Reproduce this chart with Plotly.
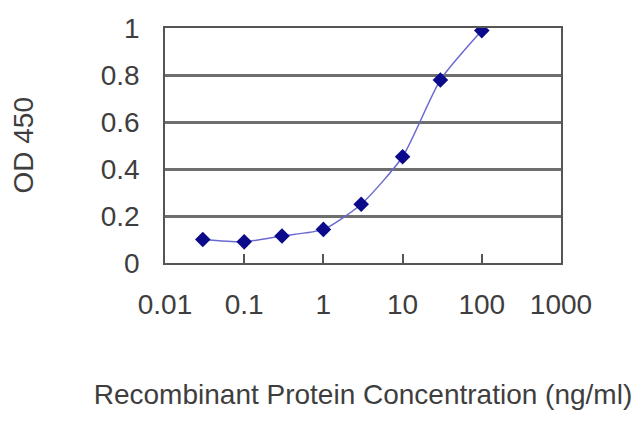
import plotly.graph_objects as go

# recombinant protein concentration (ng/ml) vs OD 450
conc = [0.03, 0.1, 0.3, 1, 3, 10, 30, 100]
od450 = [0.10, 0.09, 0.115, 0.143, 0.25, 0.452, 0.779, 0.989]

x_ticks = [0.01, 0.1, 1, 10, 100, 1000]
x_labels = ["0.01", "0.1", "1", "10", "100", "1000"]
y_ticks = [0, 0.2, 0.4, 0.6, 0.8, 1]
y_labels = ["0", "0.2", "0.4", "0.6", "0.8", "1"]

font = dict(family="Liberation Sans, Arial, sans-serif", size=28, color="#3e3e3e")

fig = go.Figure()
fig.add_trace(go.Scatter(
    x=conc, y=od450,
    mode="lines+markers",
    line=dict(color="#6a6ad0", width=1.5, shape="spline", smoothing=0.6),
    marker=dict(symbol="diamond", size=12, color="#0a0a8a"),
    showlegend=False,
))

# page body has an 8px margin, so margins are shifted to compensate
fig.update_layout(
    width=640, height=427,
    margin=dict(l=157, r=87, t=20, b=172),
    paper_bgcolor="white",
    plot_bgcolor="white",
    font=font,
)

fig.update_xaxes(
    type="log",
    range=[-2, 3],
    tickvals=x_ticks,
    ticktext=x_labels,
    ticks="inside",
    ticklen=9,
    tickcolor="#555",
    tickwidth=1.5,
    ticklabelstandoff=16,
    showgrid=False,
    showline=True,
    linecolor="#555",
    linewidth=1.5,
    mirror=True,
    zeroline=False,
    automargin=False,
    title=dict(text="Recombinant Protein Concentration (ng/ml)", standoff=65, font=font),
)

fig.update_yaxes(
    range=[0, 1],
    tickvals=y_ticks,
    ticktext=y_labels,
    ticks="",
    ticklabelstandoff=18,
    showgrid=True,
    gridcolor="#6e6e6e",
    gridwidth=2.5,
    showline=True,
    linecolor="#555",
    linewidth=1.5,
    mirror=True,
    zeroline=False,
    automargin=False,
)

# y title as an annotation so it can sit closer to the page edge
fig.add_annotation(
    text="OD 450",
    xref="paper", yref="paper",
    x=0, y=0.5,
    xanchor="center", yanchor="middle",
    xshift=-142,
    textangle=-90,
    showarrow=False,
    font=font,
)

fig.write_html("out.html")
